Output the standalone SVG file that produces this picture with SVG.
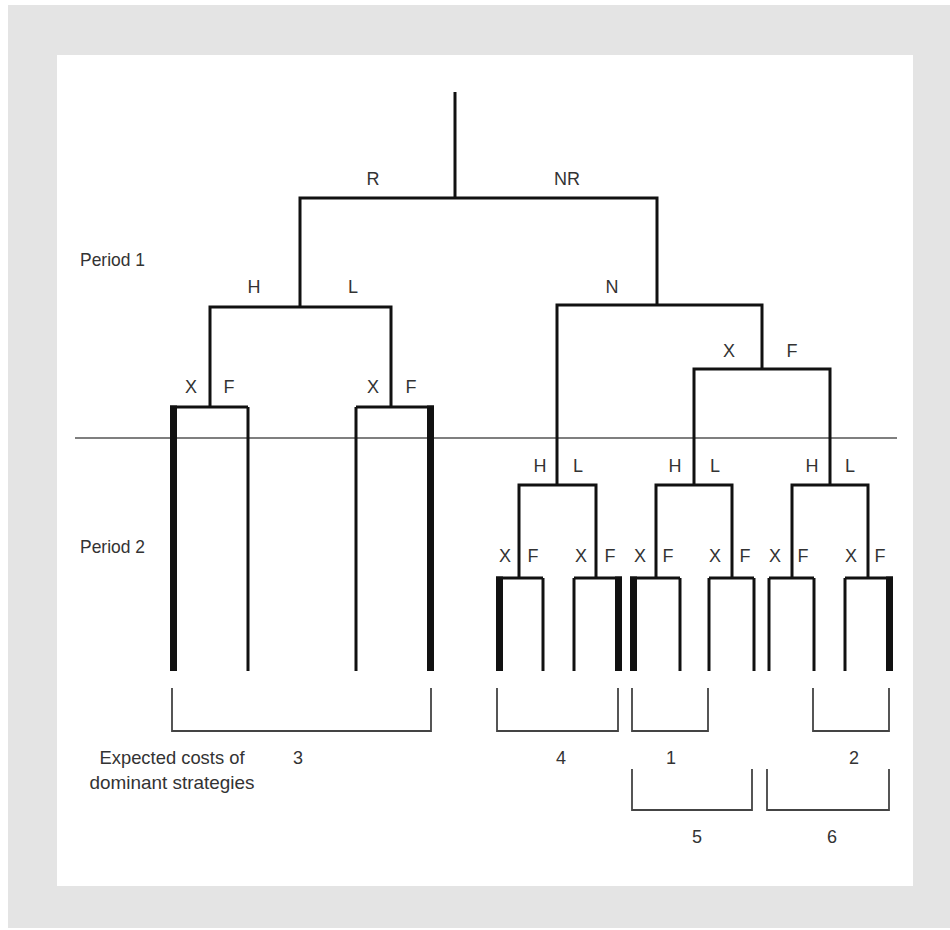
<svg xmlns="http://www.w3.org/2000/svg" width="950" height="930" viewBox="0 0 950 930">
  <style>
    .br { fill: none; stroke: #111; stroke-width: 3; stroke-linejoin: miter; stroke-linecap: butt; }
    .thin { fill: none; stroke: #111; stroke-width: 3; }
    .thick { fill: none; stroke: #111; stroke-width: 7; }
    .bk { fill: none; stroke: #444; stroke-width: 1.8; }
    .sep { stroke: #555; stroke-width: 1.5; }
    text { font-family: "Liberation Sans", Arial, sans-serif; font-size: 18px; fill: #333; }
    .lbl { text-anchor: middle; }
    .cap { font-size: 19px; }
  </style>

  <!-- page background -->
  <rect x="8" y="5" width="942" height="923" fill="#e4e4e4"/>
  <rect x="57" y="55" width="856" height="831" fill="#ffffff"/>

  <!-- period divider -->
  <line class="sep" x1="75" y1="438" x2="897" y2="438"/>
  <text class="cap" x="80" y="266" textLength="65" lengthAdjust="spacingAndGlyphs">Period 1</text>
  <text class="cap" x="80" y="553" textLength="65" lengthAdjust="spacingAndGlyphs">Period 2</text>

  <g id="connectors">
    <!-- root stem -->
    <line class="thin" x1="455" y1="92" x2="455" y2="198"/>
    <!-- terminal leaves, left subtree -->
    <line class="thick" x1="173.5" y1="405.5" x2="173.5" y2="671"/>
    <line class="thin" x1="248" y1="407" x2="248" y2="671"/>
    <line class="thin" x1="356" y1="407" x2="356" y2="671"/>
    <line class="thick" x1="430.5" y1="405.5" x2="430.5" y2="671"/>
    <!-- terminal leaves, right subtree -->
    <line class="thick" x1="499.5" y1="576.5" x2="499.5" y2="671"/>
    <line class="thin" x1="543" y1="578" x2="543" y2="671"/>
    <line class="thin" x1="574" y1="578" x2="574" y2="671"/>
    <line class="thick" x1="618.5" y1="576.5" x2="618.5" y2="671"/>
    <line class="thick" x1="633.5" y1="576.5" x2="633.5" y2="671"/>
    <line class="thin" x1="680" y1="578" x2="680" y2="671"/>
    <line class="thin" x1="709" y1="578" x2="709" y2="671"/>
    <line class="thin" x1="754" y1="578" x2="754" y2="671"/>
    <line class="thin" x1="769" y1="578" x2="769" y2="671"/>
    <line class="thin" x1="814" y1="578" x2="814" y2="671"/>
    <line class="thin" x1="845" y1="578" x2="845" y2="671"/>
    <line class="thick" x1="889.5" y1="576.5" x2="889.5" y2="671"/>
  </g>

  <!-- root decision: R / NR -->
  <g id="node-root">
    <polyline class="br" points="300,307 300,198 657,198 657,305"/>
    <text class="lbl" x="373" y="185">R</text>
    <text class="lbl" x="567" y="185">NR</text>
  </g>

  <!-- R branch: H / L -->
  <g id="node-r">
    <polyline class="br" points="210,407 210,307 391,307 391,407"/>
    <text class="lbl" x="254" y="293">H</text>
    <text class="lbl" x="353" y="293">L</text>
  </g>
  <g id="node-r-h">
    <polyline class="br" points="170,407 248,407"/>
    <text class="lbl" x="191" y="393">X</text>
    <text class="lbl" x="229" y="393">F</text>
  </g>
  <g id="node-r-l">
    <polyline class="br" points="356,407 434,407"/>
    <text class="lbl" x="373" y="393">X</text>
    <text class="lbl" x="411" y="393">F</text>
  </g>

  <!-- NR branch: N / (X, F) -->
  <g id="node-nr">
    <polyline class="br" points="557,485 557,305 762,305 762,369"/>
    <text class="lbl" x="612" y="293">N</text>
  </g>
  <g id="node-nr-y">
    <polyline class="br" points="694,485 694,369 830,369 830,485"/>
    <text class="lbl" x="729" y="357">X</text>
    <text class="lbl" x="792" y="357">F</text>
  </g>

  <!-- period 2: H / L forks -->
  <g id="node-n">
    <polyline class="br" points="519,578 519,485 596,485 596,578"/>
    <text class="lbl" x="540" y="472">H</text>
    <text class="lbl" x="578" y="472">L</text>
  </g>
  <g id="node-x">
    <polyline class="br" points="656,578 656,485 732,485 732,578"/>
    <text class="lbl" x="675" y="472">H</text>
    <text class="lbl" x="715" y="472">L</text>
  </g>
  <g id="node-f">
    <polyline class="br" points="792,578 792,485 868,485 868,578"/>
    <text class="lbl" x="812" y="472">H</text>
    <text class="lbl" x="850" y="472">L</text>
  </g>

  <!-- period 2: X / F forks -->
  <g id="node-n-h">
    <polyline class="br" points="496,578 543,578"/>
    <text class="lbl" x="505" y="562">X</text>
    <text class="lbl" x="533" y="562">F</text>
  </g>
  <g id="node-n-l">
    <polyline class="br" points="574,578 622,578"/>
    <text class="lbl" x="581" y="562">X</text>
    <text class="lbl" x="610" y="562">F</text>
  </g>
  <g id="node-x-h">
    <polyline class="br" points="630,578 680,578"/>
    <text class="lbl" x="640" y="562">X</text>
    <text class="lbl" x="668" y="562">F</text>
  </g>
  <g id="node-x-l">
    <polyline class="br" points="709,578 754,578"/>
    <text class="lbl" x="715" y="562">X</text>
    <text class="lbl" x="745" y="562">F</text>
  </g>
  <g id="node-f-h">
    <polyline class="br" points="769,578 814,578"/>
    <text class="lbl" x="775" y="562">X</text>
    <text class="lbl" x="803" y="562">F</text>
  </g>
  <g id="node-f-l">
    <polyline class="br" points="845,578 893,578"/>
    <text class="lbl" x="851" y="562">X</text>
    <text class="lbl" x="880" y="562">F</text>
  </g>

  <!-- expected cost brackets -->
  <g id="costs">
    <polyline class="bk" points="172,688 172,731 431,731 431,688"/>
    <polyline class="bk" points="497,688 497,731 618,731 618,688"/>
    <polyline class="bk" points="632,688 632,731 708,731 708,688"/>
    <polyline class="bk" points="813,688 813,731 889,731 889,688"/>
    <polyline class="bk" points="632,769 632,810 752,810 752,769"/>
    <polyline class="bk" points="767,769 767,810 889,810 889,769"/>
    <text class="cap lbl" x="172" y="764" textLength="145" lengthAdjust="spacingAndGlyphs">Expected costs of</text>
    <text class="cap lbl" x="172" y="789" textLength="165" lengthAdjust="spacingAndGlyphs">dominant strategies</text>
    <text class="lbl" x="298" y="764">3</text>
    <text class="lbl" x="561" y="764">4</text>
    <text class="lbl" x="671" y="764">1</text>
    <text class="lbl" x="854" y="764">2</text>
    <text class="lbl" x="697" y="843">5</text>
    <text class="lbl" x="832" y="843">6</text>
  </g>
</svg>
